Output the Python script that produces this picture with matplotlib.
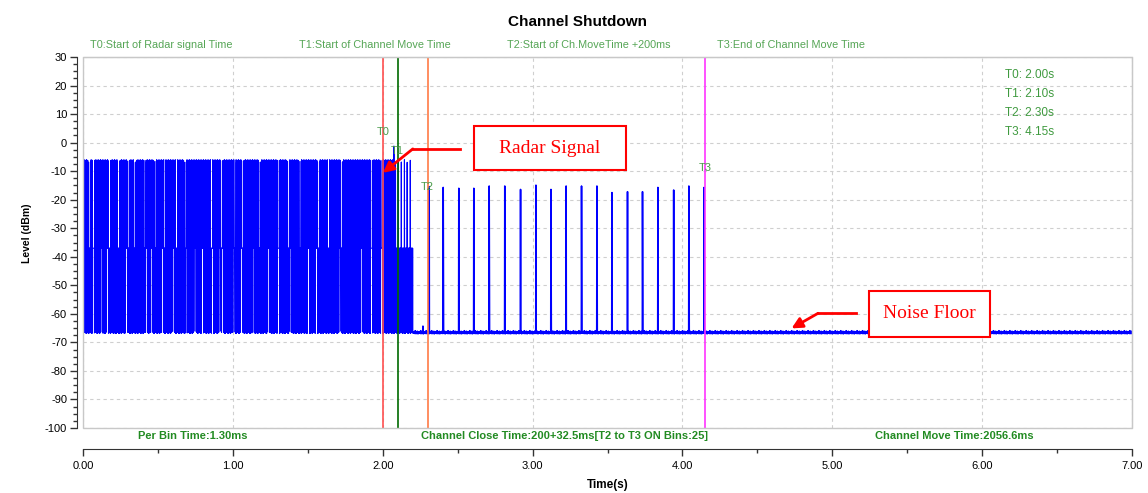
import numpy as np
import matplotlib
matplotlib.use('Agg')
import matplotlib.pyplot as plt
from matplotlib.ticker import MultipleLocator, FormatStrFormatter
from matplotlib.patches import Rectangle

# Scan data (levels in dBm, times in s)
bin_time = 0.0013
t_end = 7.0
floor_level = -66.6
floor_ripple = [0.1, -0.3, 0.3, -0.1, 0.0, 0.2, -0.3, 0.2, -0.1, 0.5, -0.2, 0.1, -0.4, 0.2,
                0.1, -0.2, 0.3, -0.1, 0.1, -0.2, 0.0, 0.4, -0.1, 0.1, -0.3, 0.2, 0.7, -0.1]

burst_end = 2.20
burst_mid = -37.0
burst_top = [-6.2, -7.4, -6.8, -7.9, -6.5, -7.1, -6.0, -7.6, -6.9, -7.3, -6.4, -7.8]
# white strips inside the burst: top half missing / bottom half missing
upper_gaps = [0.042, 0.069, 0.176, 0.236, 0.302, 0.347, 0.414, 0.480, 0.547, 0.625, 0.680,
              0.858, 0.925, 1.014, 1.065, 1.181, 1.303, 1.370, 1.448, 1.570, 1.637, 1.726,
              1.926, 1.988]
lower_gaps = [0.069, 0.125, 0.162, 0.291, 0.425, 0.460, 0.531, 0.603, 0.687, 0.747, 0.798,
              0.865, 0.914, 0.932, 1.007, 1.056, 1.136, 1.236, 1.303, 1.381, 1.503, 1.559,
              1.714, 1.859, 1.926, 1.993]
tail_start = 2.08
tail_pulses = [2.085, 2.105, 2.125, 2.145, 2.165, 2.185]
spike_t, spike_level = 2.075, -1.2
bump_t, bump_level = 2.268, -64.3

pulse_t = [2.310, 2.404, 2.508, 2.608, 2.711, 2.815, 2.920, 3.022, 3.122, 3.224, 3.327,
           3.429, 3.529, 3.633, 3.734, 3.836, 3.941, 4.043, 4.145]
pulse_peak = [-15.4, -15.7, -16.0, -16.0, -15.2, -15.2, -16.4, -14.9, -16.4, -15.2, -15.2,
              -15.2, -17.5, -17.2, -17.2, -15.7, -16.6, -15.2, -15.7]
nan = float('nan')
pulse_mid = [nan, -41.1, nan, -41.5, -40.9, nan, nan, nan, -42.1, nan, -40.7,
             -41.5, nan, nan, -42.5, nan, nan, -40.3, nan]

marker_names = ['T0', 'T1', 'T2', 'T3']
marker_t = [2.00, 2.10, 2.30, 4.15]
marker_label_level = [3.7, -2.8, -15.5, -8.9]
header = ['T0:Start of Radar signal Time', 'T1:Start of Channel Move Time',
          'T2:Start of Ch.MoveTime +200ms', 'T3:End of Channel Move Time']
footer = ['Per Bin Time:1.30ms', 'Channel Close Time:200+32.5ms[T2 to T3 ON Bins:25]',
          'Channel Move Time:2056.6ms']

# build the bin series
n_bins = int(round(t_end / bin_time)) + 1
t = np.arange(n_bins) * bin_time
idx = np.arange(n_bins)
odd = idx % 2 == 1
level = floor_level + np.resize(floor_ripple, n_bins)
top_vals = np.resize(burst_top, n_bins)
burst = t < burst_end
level[burst & ~odd] = top_vals[burst & ~odd]
gap_half = 0.0065
for g in upper_gaps:
    level[(np.abs(t - g) < gap_half) & ~odd] = burst_mid
for g in lower_gaps:
    level[(np.abs(t - g) < gap_half) & odd] = burst_mid
tail = (t >= tail_start) & burst & ~odd
level[tail] = burst_mid
for p in tail_pulses:
    i = int(round(p / bin_time)) // 2 * 2
    level[i] = top_vals[i]
level[int(round(spike_t / bin_time))] = spike_level
level[int(round(bump_t / bin_time))] = bump_level
for p, pk, md in zip(pulse_t, pulse_peak, pulse_mid):
    i = int(round(p / bin_time))
    level[i] = pk
    if not np.isnan(md):
        level[i + 1] = md

plt.rcParams['font.family'] = ['Liberation Sans', 'DejaVu Sans']
plt.rcParams['axes.unicode_minus'] = False
fig = plt.figure(figsize=(11.48, 4.93), dpi=100)
ax = fig.add_axes([83 / 1148, 1 - 428 / 493, 1049 / 1148, 371 / 493])

split = int(np.argmax(~burst))
ax.plot(t[:split + 1], level[:split + 1], color='#0000ff', lw=0.8, zorder=2)
ax.plot(t[split:], level[split:], color='#0000ff', lw=1.15, zorder=2)

line_colors = ['#ff5050', '#006a00', '#ff7a45', '#ff33ff']
for name, tm, lv, c in zip(marker_names, marker_t, marker_label_level, line_colors):
    ax.axvline(tm, color=c, lw=1.2, zorder=3)
    ax.text(tm, lv, name, color='#4a9a4a', fontsize=8, ha='center', va='center', zorder=4)

ax.set_xlim(0, 7)
ax.set_ylim(-100, 30)
ax.xaxis.set_major_locator(MultipleLocator(1))
ax.xaxis.set_minor_locator(MultipleLocator(0.5))
ax.xaxis.set_major_formatter(FormatStrFormatter('%.2f'))
ax.yaxis.set_major_locator(MultipleLocator(10))
ax.yaxis.set_minor_locator(MultipleLocator(2.5))
ax.grid(True, which='major', color='#cfcfcf', ls=(0, (3, 3)), lw=0.8)
ax.tick_params(which='major', length=5, width=1, labelsize=8, color='#333333', pad=2)
ax.tick_params(which='minor', length=3, width=1, color='#333333')
ax.tick_params(axis='x', pad=4)

for s in ['top', 'right']:
    ax.spines[s].set_color('#c8c8c8')
ax.spines['left'].set_position(('outward', 4.5))
ax.spines['bottom'].set_position(('outward', 15))
for s in ['left', 'bottom']:
    ax.spines[s].set_color('#333333')
ax.add_patch(Rectangle((0, 0), 1, 1, transform=ax.transAxes, fill=False,
                       edgecolor='#c8c8c8', lw=1, clip_on=False, zorder=5))

ax.set_xlabel('Time(s)', fontsize=8.5, fontweight='bold')
ax.xaxis.set_label_coords(0.5, -0.138)
ax.set_ylabel('Level (dBm)', fontsize=7.5, fontweight='bold')
ax.yaxis.set_label_coords(-0.0486, 0.526)

fig.text(578 / 1148, 1 - 22 / 493, 'Channel Shutdown', fontsize=11, fontweight='bold',
         ha='center', va='center')

xt = ax.get_xaxis_transform()
for x0, s in zip([0.05, 1.441, 2.829, 4.23], header):
    ax.text(x0, 1.032, s, transform=xt, color='#55a555', fontsize=7.8, ha='left', va='center')
for x0, s in zip([0.367, 2.255, 5.283], footer):
    ax.text(x0, -0.022, s, transform=xt, color='#228b22', fontsize=8, fontweight='bold',
            ha='left', va='center')

for lv, name, tm in zip([23.7, 17.0, 10.4, 3.7], marker_names, marker_t):
    ax.text(6.151, lv, f'{name}: {tm:.2f}s', color='#3f9a3f', fontsize=8.5, ha='left', va='center')

# callout boxes
ax.add_patch(Rectangle((2.608, -9.6), 1.014, 15.4, facecolor='white', edgecolor='red',
                       lw=1.5, zorder=6))
ax.text(3.115, -1.9, 'Radar Signal', family='Liberation Serif', fontsize=14, color='red',
        ha='center', va='center', zorder=7)
ax.plot([2.515, 2.201], [-2.2, -2.2], color='red', lw=2, zorder=6)
ax.annotate('', xy=(2.001, -10.6), xytext=(2.201, -2.2),
            arrowprops=dict(arrowstyle='-|>', color='red', lw=2, mutation_scale=16,
                            shrinkA=0, shrinkB=0), zorder=6)

ax.add_patch(Rectangle((5.243, -68.1), 0.808, 16.1, facecolor='white', edgecolor='red',
                       lw=1.5, zorder=6))
ax.text(5.647, -60.0, 'Noise Floor', family='Liberation Serif', fontsize=14, color='red',
        ha='center', va='center', zorder=7)
ax.plot([5.157, 4.905], [-59.8, -59.8], color='red', lw=2, zorder=6)
ax.annotate('', xy=(4.728, -65.1), xytext=(4.905, -59.8),
            arrowprops=dict(arrowstyle='-|>', color='red', lw=2, mutation_scale=16,
                            shrinkA=0, shrinkB=0), zorder=6)

fig.savefig('out.png', dpi=100)
